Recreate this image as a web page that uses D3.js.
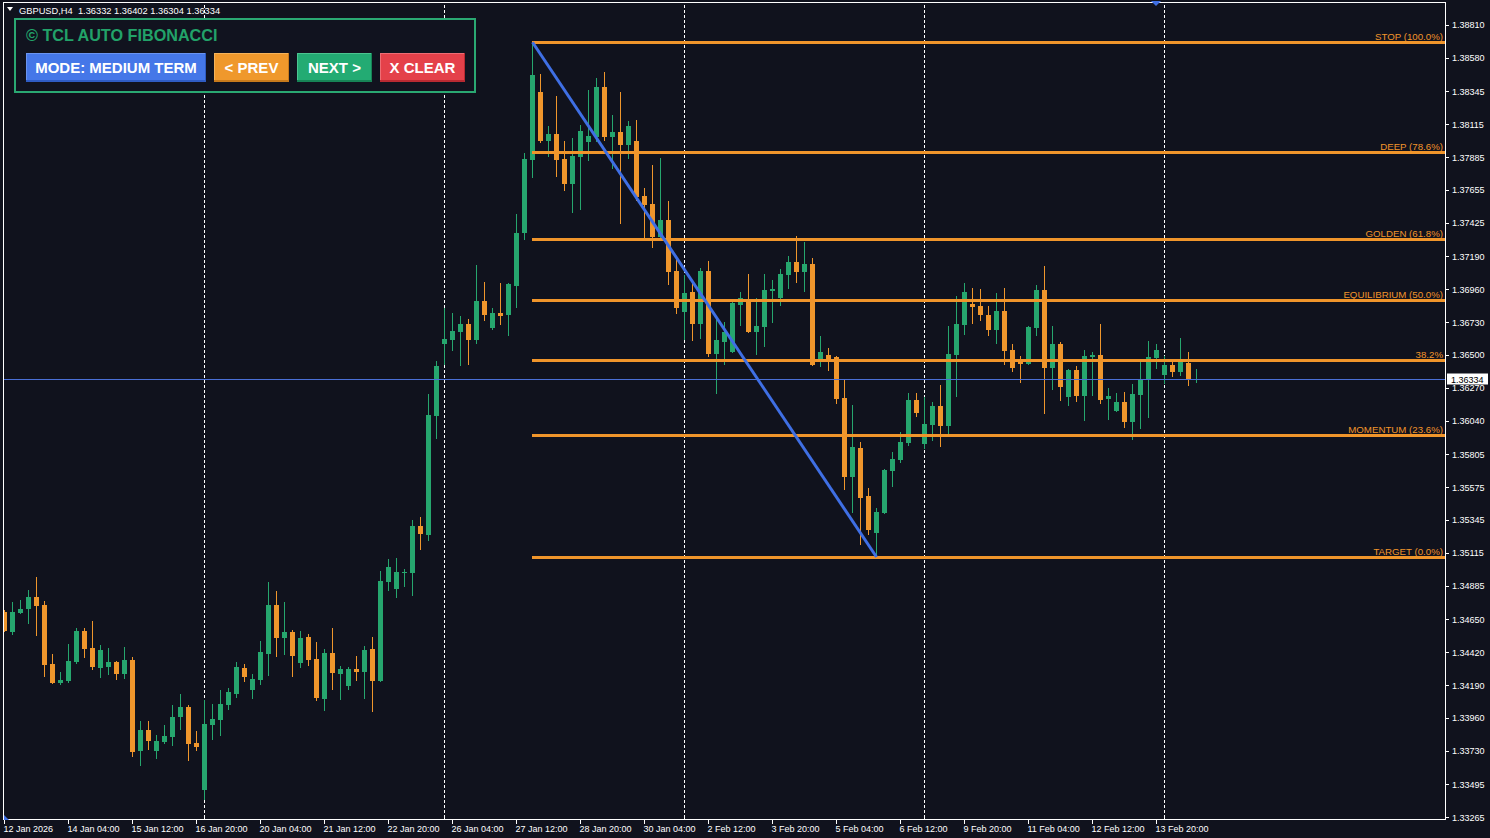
<!DOCTYPE html>
<html><head><meta charset="utf-8">
<script src="https://cdn.jsdelivr.net/npm/d3@7"></script>
<style>
html,body{margin:0;padding:0;background:#10121d;overflow:hidden}
svg{display:block}
</style></head><body>
<svg id="c" width="1490" height="838"></svg>
<script>
// ---------------- DATA ----------------
const symbol = "GBPUSD,H4";
const opens = [1.34701,1.34563,1.34694,1.34724,1.34806,1.34750,1.34337,1.34206,1.34220,1.34353,
1.34568,1.34449,1.34311,1.34318,1.34351,1.34269,1.34365,1.33730,1.33875,1.33730,
1.33793,1.33828,1.33968,1.34036,1.33786,1.33457,1.33912,1.33947,1.34052,1.34129,
1.34309,1.34157,1.34227,1.34409,1.34750,1.34521,1.34561,1.34346,1.34526,1.34372,
1.34094,1.34414,1.34269,1.34185,1.34302,1.34283,1.34442,1.34220,1.34911,1.34862,
1.34978,1.34974,1.35303,1.35240,1.36073,1.36577,1.36605,1.36661,1.36717,1.36605,
1.36878,1.36689,1.36794,1.36780,1.36983,1.37354,1.37865,1.38341,1.37998,1.38047,
1.37872,1.37697,1.37886,1.37991,1.38026,1.38376,1.38026,1.38061,1.37970,1.37998,
1.37613,1.37557,1.37326,1.37445,1.37088,1.36801,1.36941,1.36717,1.37088,1.36507,
1.36591,1.36521,1.36850,1.36892,1.36661,1.36696,1.36948,1.36899,1.37060,1.37151,
1.37081,1.37137,1.36458,1.36500,1.36486,1.36199,1.35646,1.35849,1.35513,1.35254,
1.35394,1.35688,1.35765,1.35884,1.36185,1.35877,1.36010,1.36143,1.36003,1.36500,
1.36710,1.36857,1.36843,1.36780,1.36675,1.36808,1.36535,1.36458,1.36437,1.36689,
1.36955,1.36409,1.36577,1.36206,1.36395,1.36213,1.36486,1.36500,1.36192,1.36108,
1.36171,1.36031,1.36220,1.36332,1.36479,1.36360,1.36430,1.36381,1.36444,1.36332];
const highs = [1.34715,1.34771,1.34783,1.34855,1.34946,1.34778,1.34407,1.34281,1.34477,1.34589,
1.34589,1.34638,1.34470,1.34449,1.34358,1.34456,1.34386,1.33938,1.33938,1.33840,
1.33910,1.34050,1.34127,1.34050,1.33868,1.34087,1.34057,1.34155,1.34169,1.34351,
1.34337,1.34267,1.34498,1.34911,1.34848,1.34771,1.34575,1.34568,1.34547,1.34491,
1.34442,1.34589,1.34323,1.34316,1.34393,1.34463,1.34526,1.34988,1.35072,1.35079,
1.35002,1.35345,1.35366,1.36227,1.36458,1.36829,1.36794,1.36773,1.36752,1.37130,
1.37011,1.36829,1.37004,1.37004,1.37487,1.37914,1.38689,1.38467,1.38103,1.38313,
1.37998,1.38019,1.38110,1.38355,1.38439,1.38481,1.38180,1.38341,1.38138,1.38145,
1.37669,1.37830,1.37879,1.37578,1.37186,1.37060,1.37004,1.37109,1.37158,1.36766,
1.36731,1.36885,1.36941,1.37067,1.36899,1.37067,1.37025,1.37102,1.37193,1.37333,
1.37291,1.37179,1.36633,1.36549,1.36493,1.36325,1.36150,1.35891,1.35569,1.35429,
1.35702,1.35821,1.35961,1.36234,1.36234,1.36206,1.36171,1.36290,1.36703,1.36913,
1.37004,1.36969,1.36962,1.36843,1.36934,1.36969,1.36577,1.36493,1.36703,1.36990,
1.37123,1.36703,1.36591,1.36402,1.36423,1.36535,1.36521,1.36717,1.36269,1.36234,
1.36241,1.36297,1.36458,1.36598,1.36577,1.36493,1.36458,1.36619,1.36521,1.36402];
const lows = [1.34561,1.34542,1.34687,1.34619,1.34535,1.34248,1.34200,1.34192,1.34206,1.34339,
1.34381,1.34297,1.34241,1.34262,1.34227,1.34234,1.33688,1.33625,1.33737,1.33674,
1.33779,1.33765,1.33877,1.33660,1.33730,1.33385,1.33807,1.33835,1.34017,1.34101,
1.34213,1.34094,1.34192,1.34255,1.34388,1.34402,1.34248,1.34311,1.34325,1.34080,
1.34010,1.34157,1.34087,1.34157,1.34220,1.34094,1.34003,1.34213,1.34848,1.34799,
1.34876,1.34813,1.35135,1.35198,1.35912,1.36430,1.36528,1.36423,1.36430,1.36577,
1.36738,1.36675,1.36710,1.36633,1.36829,1.37305,1.37739,1.37984,1.37886,1.37746,
1.37648,1.37494,1.37515,1.37858,1.37991,1.37998,1.37802,1.37417,1.37872,1.37578,
1.37312,1.37249,1.37312,1.36990,1.36787,1.36605,1.36598,1.36612,1.36486,1.36227,
1.36430,1.36514,1.36703,1.36654,1.36500,1.36556,1.36724,1.36843,1.36962,1.37004,
1.36941,1.36423,1.36416,1.36388,1.36157,1.35555,1.35394,1.35170,1.35240,1.35087,
1.35387,1.35576,1.35744,1.35863,1.36066,1.35842,1.35898,1.35856,1.35926,1.36206,
1.36640,1.36717,1.36738,1.36633,1.36577,1.36430,1.36381,1.36304,1.36430,1.36633,
1.36087,1.36255,1.36178,1.36143,1.36171,1.36038,1.36213,1.36157,1.36045,1.36101,
1.35989,1.35905,1.35982,1.36059,1.36402,1.36297,1.36346,1.36353,1.36283,1.36304];
const closes = [1.34568,1.34701,1.34722,1.34806,1.34745,1.34332,1.34206,1.34225,1.34358,1.34568,
1.34444,1.34318,1.34435,1.34351,1.34269,1.34365,1.33723,1.33875,1.33800,1.33798,
1.33833,1.33966,1.34036,1.33779,1.33758,1.33917,1.33952,1.34057,1.34141,1.34316,
1.34248,1.34232,1.34421,1.34750,1.34521,1.34561,1.34395,1.34519,1.34367,1.34101,
1.34414,1.34276,1.34302,1.34302,1.34283,1.34435,1.34220,1.34918,1.35016,1.34981,
1.34981,1.35303,1.35247,1.36080,1.36423,1.36612,1.36668,1.36717,1.36605,1.36878,
1.36780,1.36794,1.36773,1.36997,1.37354,1.37872,1.38460,1.37998,1.38047,1.37865,
1.37697,1.37893,1.38068,1.38033,1.38376,1.38026,1.38061,1.37970,1.38103,1.37606,
1.37550,1.37326,1.37445,1.37081,1.36829,1.36934,1.36717,1.37088,1.36507,1.36605,
1.36661,1.36864,1.36899,1.36661,1.36703,1.36955,1.36962,1.37067,1.37151,1.37081,
1.37137,1.36430,1.36521,1.36465,1.36192,1.35646,1.35856,1.35499,1.35275,1.35401,
1.35695,1.35772,1.35891,1.36185,1.36094,1.36017,1.36143,1.36003,1.36507,1.36717,
1.36941,1.36836,1.36780,1.36675,1.36808,1.36528,1.36409,1.36437,1.36696,1.36955,
1.36409,1.36577,1.36276,1.36395,1.36213,1.36493,1.36500,1.36185,1.36213,1.36171,
1.36031,1.36227,1.36332,1.36486,1.36535,1.36430,1.36381,1.36451,1.36325,1.36334];

const xTickIndex = [0,8,16,24,32,40,48,56,64,72,80,88,96,104,112,120,128,136,144];
const xTickLabels = ["12 Jan 2026","14 Jan 04:00","15 Jan 12:00","16 Jan 20:00","20 Jan 04:00",
"21 Jan 12:00","22 Jan 20:00","26 Jan 04:00","27 Jan 12:00","28 Jan 20:00","30 Jan 04:00",
"2 Feb 12:00","3 Feb 20:00","5 Feb 04:00","6 Feb 12:00","9 Feb 20:00","11 Feb 04:00",
"12 Feb 12:00","13 Feb 20:00"];
const weekSeparators = [25,55,85,115,145];
const yTicks = [1.38810,1.38580,1.38345,1.38115,1.37885,1.37655,1.37425,1.37190,1.36960,
1.36730,1.36500,1.36270,1.36040,1.35805,1.35575,1.35345,1.35115,1.34885,1.34650,1.34420,
1.34190,1.33960,1.33730,1.33495,1.33265];
const fibHighIndex = 66, fibLowIndex = 109;
const fibRatios = [1.0,0.786,0.618,0.5,0.382,0.236,0.0];
const fibNames = ["STOP","DEEP","GOLDEN","EQUILIBRIUM","","MOMENTUM","TARGET"];
const panelTitle = "© TCL AUTO FIBONACCI";
const buttonLabels = ["MODE: MEDIUM TERM","< PREV","NEXT >","X CLEAR"];

// ---------------- STYLE ----------------
const C = {bg:"#10121d", up:"#26a66e", down:"#ef962c", fib:"#f0952b", zig:"#3f6fe4",
  bid:"#4a6fd6", white:"#ffffff", panelBorder:"#2aa872", title:"#22a269"};
const FONT = "'Liberation Sans', Arial, sans-serif";

const n = closes.length;
const svg = d3.select('#c');
svg.append('rect').attr('width',1490).attr('height',838).attr('fill',C.bg);

const x = d3.scaleLinear().domain([0, n-1]).range([4, 4 + 8*(n-1)]);
const y = d3.scaleLinear().domain([1.33265, 1.38810]).range([817.3, 25]);

svg.append('defs').append('clipPath').attr('id','plotclip')
  .append('rect').attr('x',4).attr('y',3).attr('width',1441).attr('height',816);

const plot = svg.append('g').attr('clip-path','url(#plotclip)').attr('shape-rendering','crispEdges');

// week separators
plot.selectAll('line.sep').data(weekSeparators).join('line')
  .attr('x1',d=>x(d)+0.5).attr('x2',d=>x(d)+0.5).attr('y1',0).attr('y2',820)
  .attr('stroke','#ffffff').attr('stroke-width',1).attr('stroke-dasharray','3,2');

// candles
const idx = d3.range(n);
plot.selectAll('rect.wick').data(idx).join('rect')
  .attr('x',i=>x(i)).attr('width',1)
  .attr('y',i=>Math.round(y(highs[i])))
  .attr('height',i=>Math.max(1,Math.round(y(lows[i]))-Math.round(y(highs[i]))))
  .attr('fill',i=>closes[i]>=opens[i]?C.up:C.down);
plot.selectAll('rect.body').data(idx).join('rect')
  .attr('x',i=>x(i)-2).attr('width',5)
  .attr('y',i=>Math.round(y(Math.max(opens[i],closes[i]))))
  .attr('height',i=>Math.max(1,Math.round(y(Math.min(opens[i],closes[i])))-Math.round(y(Math.max(opens[i],closes[i])))))
  .attr('fill',i=>closes[i]>=opens[i]?C.up:C.down);

// bid line
const last = n-1;
plot.append('line').attr('x1',4).attr('x2',1445).attr('y1',Math.round(y(closes[last]))+0.5).attr('y2',Math.round(y(closes[last]))+0.5)
  .attr('stroke',C.bid).attr('stroke-width',1);

// fibonacci
const fHi = highs[fibHighIndex], fLo = lows[fibLowIndex];
const fibLevels = fibRatios.map((r,k)=>({r, price:fLo+(fHi-fLo)*r,
  label: fibNames[k] ? `${fibNames[k]} (${(r*100).toFixed(1)}%)` : `${(r*100).toFixed(1)}%`}));
const fibG = svg.append('g');
fibG.selectAll('line').data(fibLevels).join('line')
  .attr('x1',x(fibHighIndex)).attr('x2',1445)
  .attr('y1',d=>Math.round(y(d.price))+0.5).attr('y2',d=>Math.round(y(d.price))+0.5)
  .attr('stroke',C.fib).attr('stroke-width',3).attr('shape-rendering','crispEdges');
fibG.selectAll('text').data(fibLevels).join('text')
  .attr('x',1443).attr('y',d=>Math.round(y(d.price))-2.5)
  .attr('text-anchor','end').attr('font-family',FONT).attr('font-size',9.7)
  .attr('fill',C.fib).text(d=>d.label);

// zigzag
svg.append('line')
  .attr('x1',x(fibHighIndex)+0.5).attr('y1',y(fHi))
  .attr('x2',x(fibLowIndex)+0.5).attr('y2',y(fLo))
  .attr('stroke',C.zig).attr('stroke-width',3);

// frame
svg.append('rect').attr('x',3.5).attr('y',2.5).attr('width',1442).attr('height',817)
  .attr('fill','none').attr('stroke','#ffffff').attr('stroke-width',1).attr('shape-rendering','crispEdges');

// y axis
const yAxis = d3.axisRight(y).tickValues(yTicks).tickFormat(d3.format('.5f')).tickSize(4).tickSizeOuter(0);
svg.append('g').attr('transform','translate(1445,0)').call(yAxis)
  .attr('font-family',FONT).attr('font-size',9)
  .call(g=>g.select('.domain').remove())
  .call(g=>g.selectAll('line').attr('stroke','#fff').attr('shape-rendering','crispEdges'))
  .call(g=>g.selectAll('text').attr('fill','#fff').attr('x',7));

// x axis
const xAxis = d3.axisBottom(x).tickValues(xTickIndex).tickFormat((d,i)=>xTickLabels[i]).tickSize(4).tickSizeOuter(0);
svg.append('g').attr('transform','translate(0,820)').call(xAxis)
  .attr('font-family',FONT).attr('font-size',9)
  .call(g=>g.select('.domain').remove())
  .call(g=>g.selectAll('line').attr('stroke','#fff').attr('shape-rendering','crispEdges'))
  .call(g=>g.selectAll('text').attr('fill','#fff').attr('text-anchor','start').attr('x',-1).attr('y',6));
// separator marks on time axis
svg.selectAll('line.sepmark').data(weekSeparators).join('line')
  .attr('x1',d=>x(d)+0.5).attr('x2',d=>x(d)+0.5).attr('y1',815).attr('y2',820)
  .attr('stroke','#fff').attr('shape-rendering','crispEdges');

// current price label
const cy = Math.round(y(closes[last]));
svg.append('rect').attr('x',1447).attr('y',cy-5.5).attr('width',41).attr('height',11).attr('fill','#fff');
svg.append('text').attr('x',1451).attr('y',cy+3.5).attr('font-family',FONT).attr('font-size',9)
  .attr('fill','#000').text(d3.format('.5f')(closes[last]));

// header
svg.append('path').attr('d','M7,7 L13,7 L10,11 Z').attr('fill','#fff');
svg.append('text').attr('x',19).attr('y',14).attr('font-family',FONT).attr('font-size',9.3).attr('fill','#fff')
  .attr('xml:space','preserve')
  .text(`${symbol}  ${[opens[last],highs[last],lows[last],closes[last]].map(d3.format('.5f')).join(' ')}`);

// markers
svg.append('path').attr('d','M1151,1 L1161,1 L1156,6 Z').attr('fill',C.zig);
svg.append('path').attr('d','M4,815 L4,820 L9,820 Z').attr('fill',C.zig);

// panel
const panel = svg.append('g');
panel.append('rect').attr('x',15).attr('y',19).attr('width',460).attr('height',73)
  .attr('fill','#11131f').attr('stroke',C.panelBorder).attr('stroke-width',2);
panel.append('text').attr('x',26).attr('y',41).attr('font-family',FONT).attr('font-weight','bold')
  .attr('font-size',16.2).attr('fill',C.title).text(panelTitle);
const btns = [
  {x:26,w:180,fill:'#4577e8',hi:'#6a94f0',lo:'#2f5cc4'},
  {x:214,w:75,fill:'#ef982c',hi:'#f5b35a',lo:'#c77a1c'},
  {x:297,w:75,fill:'#23ab73',hi:'#4cc490',lo:'#178356'},
  {x:380,w:85,fill:'#e4414a',hi:'#ee6d74',lo:'#b82a32'}];
btns.forEach((b,k)=>{
  const bg = panel.append('g').attr('shape-rendering','crispEdges');
  bg.append('rect').attr('x',b.x).attr('y',53).attr('width',b.w).attr('height',29).attr('fill',b.fill);
  bg.append('rect').attr('x',b.x).attr('y',53).attr('width',b.w).attr('height',1).attr('fill',b.hi);
  bg.append('rect').attr('x',b.x).attr('y',53).attr('width',1).attr('height',29).attr('fill',b.hi);
  bg.append('rect').attr('x',b.x).attr('y',80).attr('width',b.w).attr('height',2).attr('fill',b.lo);
  bg.append('rect').attr('x',b.x+b.w-1).attr('y',53).attr('width',1).attr('height',29).attr('fill',b.lo);
  panel.append('text').attr('x',b.x+b.w/2).attr('y',73).attr('text-anchor','middle')
    .attr('font-family',FONT).attr('font-weight','bold').attr('font-size',15).attr('fill','#fff')
    .text(buttonLabels[k]);
});
</script>
</body></html>
